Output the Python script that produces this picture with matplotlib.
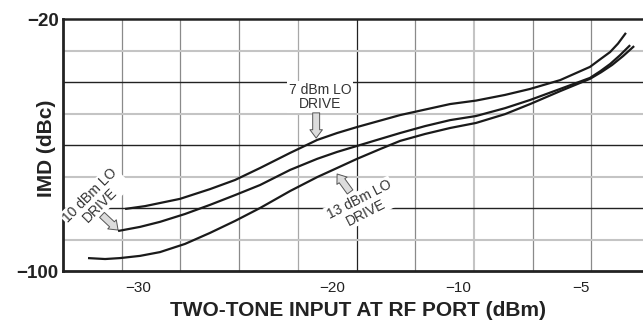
import numpy as np
import matplotlib
matplotlib.use('Agg')
import matplotlib.pyplot as plt

plt.rcParams['font.family'] = ['Liberation Sans', 'DejaVu Sans']

# IMD vs two-tone input
# x in dBm (RF input), y in dBc
x_7dbm = [-30.67, -29.64, -27.84, -26.29, -25.00, -23.71, -22.16, -21.65, -20.77, -19.60,
          -18.02, -14.60, -10.63, -9.27, -8.09, -7.07, -5.85, -4.64, -4.23, -3.83, -3.51, -3.19]
imd_7dbm = [-80.3, -79.4, -77.1, -74.0, -71.1, -67.3, -62.5, -61.0, -58.4, -56.2,
            -54.3, -50.5, -47.0, -45.9, -44.1, -42.2, -39.4, -35.2, -32.8, -30.5, -27.8, -24.4]

x_10dbm = [-31.03, -29.90, -28.87, -27.58, -26.29, -25.00, -23.71, -22.16, -20.77, -19.60, -18.02,
           -16.19, -14.60, -12.62, -10.63, -9.27, -8.09, -7.07, -5.85, -4.64, -4.23, -3.83, -3.43, -3.02]
imd_10dbm = [-87.3, -86.0, -84.4, -81.9, -79.0, -75.9, -72.7, -67.9, -64.4, -62.2, -60.3,
             -58.1, -56.2, -54.0, -52.1, -50.8, -48.3, -45.7, -42.2, -38.7, -36.6, -34.3, -31.5, -28.3]

x_13dbm = [-32.58, -31.70, -30.93, -29.90, -28.87, -27.58, -26.29, -25.00, -23.71, -22.16, -20.77, -19.60,
           -18.02, -16.19, -14.60, -12.62, -10.63, -9.27, -8.09, -7.07, -5.85, -4.64, -4.19, -3.75, -3.31, -2.86]
imd_13dbm = [-95.9, -96.2, -95.9, -95.2, -94.0, -91.4, -87.9, -84.1, -80.0, -74.6, -70.2, -67.3,
             -64.4, -61.3, -58.7, -56.5, -54.6, -53.0, -50.2, -47.0, -42.9, -39.0, -36.9, -34.6, -31.8, -28.6]

x_ticks = [-30, -20, -10, -5]
x_tick_labels = ['\u221230', '\u221220', '\u221210', '\u22125']
y_ticks = [-100, -20]
y_tick_labels = ['\u2212100', '\u221220']
hgrid_dark = [-40, -60, -80]
hgrid_light = [-30, -50, -70, -90]

# the x axis on the original is not linear, so map dBm -> position piecewise
scale_dbm = np.array([-40.0, -30.0, -20.0, -10.0, -5.0, 0.0])
scale_pos = np.array([-194.0, 0.0, 194.0, 320.0, 443.0, 567.0])


def fwd(x):
    return np.interp(x, scale_dbm, scale_pos)


def inv(p):
    return np.interp(p, scale_pos, scale_dbm)


fig = plt.figure(figsize=(6.43, 3.22), dpi=100)
ax = fig.add_axes([63 / 643, 1 - 271 / 322, 587 / 643, 252 / 322])
ax.set_xscale('function', functions=(fwd, inv))
ax.set_xlim(-33.87, -2.22)
ax.set_ylim(-100, -20)

# grid: vertical lines every tenth of the frame, horizontals alternate dark/light
vgrid_style = {1: '#8a8a8a', 2: '#8a8a8a', 3: '#8a8a8a', 4: '#a8a8a8', 5: '#222222',
               6: '#8a8a8a', 7: '#c4c4c4', 8: '#8a8a8a', 9: '#8a8a8a'}
for k, col in vgrid_style.items():
    lw = 1.5 if col == '#c4c4c4' else 0.9
    ax.plot([k / 10, k / 10], [0, 1], transform=ax.transAxes, color=col, lw=lw, zorder=1)
for y in hgrid_dark:
    ax.axhline(y, color='#222222', lw=1.0, zorder=1)
for y in hgrid_light:
    ax.axhline(y, color='#c4c4c4', lw=1.5, zorder=1)

for xs, ys in [(x_7dbm, imd_7dbm), (x_10dbm, imd_10dbm), (x_13dbm, imd_13dbm)]:
    ax.plot(xs, ys, color='#1a1a1a', lw=1.6, zorder=3, solid_capstyle='butt',
            solid_joinstyle='round')

# labels with white boxes that knock out the grid
box = dict(boxstyle='square,pad=0.12', fc='white', ec='none')
txt = dict(ha='center', va='center', fontsize=10, color='#333333', bbox=box,
           zorder=2.6, linespacing=1.0, rotation_mode='anchor')
ax.text(-20.6, -44.8, '7 dBm LO\nDRIVE', **txt)
ax.text(-32.2, -77.5, '10 dBm LO\nDRIVE', rotation=45, **txt)
ax.text(-17.6, -79.4, '13 dBm LO\nDRIVE', rotation=27, **txt)

arrow = dict(arrowstyle='simple,head_width=0.9,head_length=0.6,tail_width=0.5',
             fc='#dcdcdc', ec='#555555', lw=0.7, shrinkA=0, shrinkB=0)
ax.annotate('', xy=(-20.82, -57.8), xytext=(-20.82, -49.8), arrowprops=arrow, zorder=2.7)
ax.annotate('', xy=(-31.03, -87.0), xytext=(-31.86, -82.2), arrowprops=arrow, zorder=2.7)
ax.annotate('', xy=(-19.6, -69.2), xytext=(-18.57, -74.9), arrowprops=arrow, zorder=2.7)

ax.set_xticks(x_ticks)
ax.set_xticklabels(x_tick_labels, fontsize=11, color='#222222')
ax.set_yticks(y_ticks)
ax.set_yticklabels(y_tick_labels, fontsize=13.5, fontweight='bold', color='#222222')
ax.xaxis.set_minor_locator(plt.NullLocator())
ax.tick_params(axis='x', length=0, pad=7)
ax.tick_params(axis='y', length=0, pad=3)

for side in ['left', 'bottom']:
    ax.spines[side].set_linewidth(2.0)
    ax.spines[side].set_color('#222222')
ax.spines['top'].set_linewidth(1.8)
ax.spines['top'].set_color('#222222')
ax.spines['right'].set_visible(False)

fig.text(46 / 643, 1 - 148 / 322, 'IMD (dBc)', rotation=90, ha='center', va='center',
         fontsize=15, fontweight='bold', color='#222222')
fig.text(358 / 643, 1 - 310 / 322, 'TWO-TONE INPUT AT RF PORT (dBm)', ha='center', va='center',
         fontsize=15, fontweight='bold', color='#222222')

fig.savefig('out.png', dpi=100)
